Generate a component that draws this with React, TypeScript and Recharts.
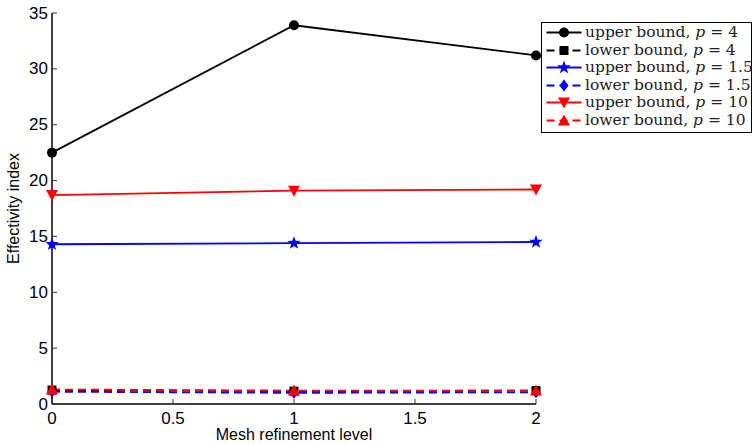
import React from 'react'
import { LineChart, Line, XAxis, YAxis } from 'recharts'

// mesh refinement levels and effectivity indices
const levels = [0, 1, 2]
const upperP4 = [22.5, 33.9, 31.2]
const lowerP4 = [1.25, 1.15, 1.2]
const upperP15 = [14.3, 14.4, 14.5]
const lowerP15 = [1.1, 1.0, 1.05]
const upperP10 = [18.7, 19.1, 19.2]
const lowerP10 = [1.3, 1.2, 1.2]

const xTicks = [0, 0.5, 1, 1.5, 2]
const yTicks = [0, 5, 10, 15, 20, 25, 30, 35]

type Shape = 'circle' | 'square' | 'star' | 'diamond' | 'down' | 'up'

interface Series {
  key: string
  bound: string
  p: string
  color: string
  shape: Shape
  dashed: boolean
  values: number[]
}

const series: Series[] = [
  { key: 'up4', bound: 'upper bound', p: '4', color: '#000000', shape: 'circle', dashed: false, values: upperP4 },
  { key: 'lo4', bound: 'lower bound', p: '4', color: '#000000', shape: 'square', dashed: true, values: lowerP4 },
  { key: 'up15', bound: 'upper bound', p: '1.5', color: '#0000ff', shape: 'star', dashed: false, values: upperP15 },
  { key: 'lo15', bound: 'lower bound', p: '1.5', color: '#0000ff', shape: 'diamond', dashed: true, values: lowerP15 },
  { key: 'up10', bound: 'upper bound', p: '10', color: '#ff0000', shape: 'down', dashed: false, values: upperP10 },
  { key: 'lo10', bound: 'lower bound', p: '10', color: '#ff0000', shape: 'up', dashed: true, values: lowerP10 },
]

const data = levels.map((lvl, i) => {
  const row: Record<string, number> = { level: lvl }
  series.forEach((s) => {
    row[s.key] = s.values[i]
  })
  return row
})

const SANS = '"Liberation Sans", Arial, sans-serif'
const SERIF = '"DejaVu Serif", serif'
const DASH = '8 5'

function starPoints(cx: number, cy: number, ro: number, ri: number) {
  const pts: string[] = []
  for (let k = 0; k < 10; k++) {
    const r = k % 2 === 0 ? ro : ri
    const a = -Math.PI / 2 + (k * Math.PI) / 5
    pts.push(`${cx + r * Math.cos(a)},${cy + r * Math.sin(a)}`)
  }
  return pts.join(' ')
}

function Marker({ shape, cx, cy, color }: { shape: Shape; cx: number; cy: number; color: string }) {
  switch (shape) {
    case 'circle':
      return <circle cx={cx} cy={cy} r={5} fill={color} />
    case 'square':
      return <rect x={cx - 4.5} y={cy - 4.5} width={9} height={9} fill={color} />
    case 'diamond':
      return <polygon points={`${cx},${cy - 6} ${cx + 4.5},${cy} ${cx},${cy + 6} ${cx - 4.5},${cy}`} fill={color} />
    case 'star':
      return <polygon points={starPoints(cx, cy, 7, 2.9)} fill={color} />
    case 'down':
      return <polygon points={`${cx - 6},${cy - 5} ${cx + 6},${cy - 5} ${cx},${cy + 6}`} fill={color} />
    case 'up':
      return <polygon points={`${cx - 6},${cy + 5} ${cx + 6},${cy + 5} ${cx},${cy - 6}`} fill={color} />
  }
  return null
}

const BottomTick = (props: any) => {
  const { x, y, payload } = props
  return (
    <g>
      <line x1={x} y1={y} x2={x} y2={y - 5} stroke="#333" strokeWidth={1} />
      <text x={x} y={y + 14} textAnchor="middle" dominantBaseline="central" fontFamily={SANS} fontSize={17} fill="#000">
        {payload.value}
      </text>
    </g>
  )
}

const TopTick = (props: any) => {
  const { x, y } = props
  return <line x1={x} y1={y} x2={x} y2={y + 5} stroke="#333" strokeWidth={1} />
}

const LeftTick = (props: any) => {
  const { x, y, payload } = props
  return (
    <g>
      <line x1={x} y1={y} x2={x + 5} y2={y} stroke="#333" strokeWidth={1} />
      <text x={x - 4} y={y} textAnchor="end" dominantBaseline="central" fontFamily={SANS} fontSize={17} fill="#000">
        {payload.value}
      </text>
    </g>
  )
}

const RightTick = (props: any) => {
  const { x, y } = props
  return <line x1={x} y1={y} x2={x - 5} y2={y} stroke="#333" strokeWidth={1} />
}

function LegendBox() {
  return (
    <div
      style={{
        position: 'absolute',
        left: 541,
        top: 22,
        width: 209,
        height: 108,
        border: '1.5px solid #000',
        background: '#fff',
        paddingTop: 1,
        boxSizing: 'content-box',
      }}
    >
      {series.map((s) => (
        <div key={s.key} style={{ display: 'flex', alignItems: 'center', height: 17.5 }}>
          <svg width={43} height={17} style={{ flex: 'none' }}>
            <line
              x1={4.5}
              y1={8.5}
              x2={39.5}
              y2={8.5}
              stroke={s.color}
              strokeWidth={1.8}
              strokeDasharray={s.dashed ? DASH : undefined}
            />
            <Marker shape={s.shape} cx={22} cy={8.5} color={s.color} />
          </svg>
          <span style={{ fontFamily: SERIF, fontSize: 15.5, color: '#222', whiteSpace: 'nowrap', lineHeight: '17px' }}>
            {s.bound}, <i>p</i> = {s.p}
          </span>
        </div>
      ))}
    </div>
  )
}

export default function App() {
  return (
    <div style={{ position: 'fixed', left: 0, top: 0, width: 755, height: 444, background: '#fff' }}>
      <LineChart width={755} height={444} data={data} margin={{ top: 13, right: 219, bottom: 0, left: 0 }}>
        <XAxis
          dataKey="level"
          type="number"
          domain={[0, 2]}
          ticks={xTicks}
          height={40}
          tickSize={0}
          tickMargin={0}
          tick={BottomTick}
          axisLine={{ stroke: '#000', strokeWidth: 1.5 }}
          tickLine={false}
          label={{ value: 'Mesh refinement level', position: 'insideBottom', offset: 4, fontFamily: SANS, fontSize: 16, fill: '#000' }}
        />
        <XAxis
          xAxisId="top"
          dataKey="level"
          type="number"
          orientation="top"
          domain={[0, 2]}
          ticks={xTicks}
          height={0}
          tickSize={0}
          tickMargin={0}
          tick={TopTick}
          axisLine={{ stroke: '#000', strokeWidth: 1.5 }}
          tickLine={false}
        />
        <YAxis
          type="number"
          domain={[0, 35]}
          ticks={yTicks}
          width={52}
          tickSize={0}
          tickMargin={0}
          tick={LeftTick}
          axisLine={{ stroke: '#000', strokeWidth: 1.5 }}
          tickLine={false}
          label={{
            value: 'Effectivity index',
            angle: -90,
            position: 'insideLeft',
            offset: 13,
            style: { textAnchor: 'middle' },
            fontFamily: SANS,
            fontSize: 16,
            fill: '#000',
          }}
        />
        <YAxis
          yAxisId="right"
          type="number"
          orientation="right"
          domain={[0, 35]}
          ticks={yTicks}
          width={0}
          tickSize={0}
          tickMargin={0}
          tick={RightTick}
          axisLine={{ stroke: '#000', strokeWidth: 1.5 }}
          tickLine={false}
        />
        {series.map((s) => (
          <Line
            key={s.key}
            dataKey={s.key}
            type="linear"
            stroke={s.color}
            strokeWidth={1.8}
            strokeDasharray={s.dashed ? DASH : undefined}
            dot={(props: any) => (
              <Marker key={`${s.key}-${props.index}`} shape={s.shape} cx={props.cx} cy={props.cy} color={s.color} />
            )}
            activeDot={false}
            isAnimationActive={false}
          />
        ))}
      </LineChart>
      <LegendBox />
    </div>
  )
}
